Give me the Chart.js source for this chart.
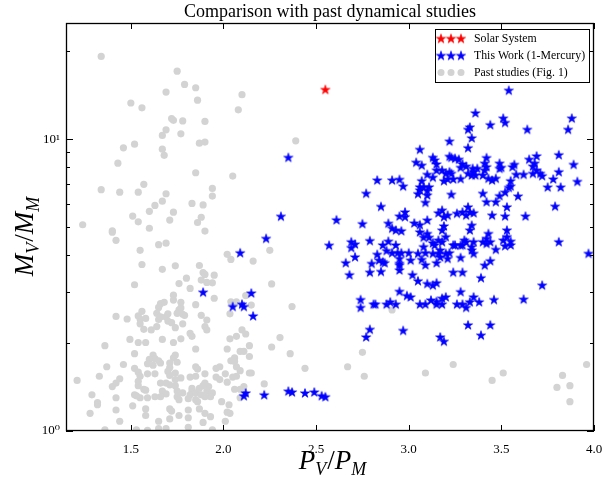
<!DOCTYPE html>
<html><head><meta charset="utf-8">
<script src="https://cdn.jsdelivr.net/npm/chart.js@4.4.0/dist/chart.umd.min.js"></script>
<style>html,body{margin:0;padding:0;background:#fff;overflow:hidden;}canvas{display:block;}</style>
</head><body>
<canvas id="c" width="603" height="477"></canvas>
<script>
const chartTitle = 'Comparison with past dynamical studies';
const seriesNames = ['Solar System', 'This Work (1-Mercury)', 'Past studies (Fig. 1)'];
const seriesColors = ['#ff0000', '#0000ff', '#d3d3d3'];
const xTicks = [1.5, 2.0, 2.5, 3.0, 3.5, 4.0];
const yMajorTicks = [1, 10];
const yMinorTicks = [2, 3, 4, 5, 6, 7, 8, 9, 20];
const xRange = [1.15, 4.0];
const yRange = [1, 25];

const solarSystem = [[2.55, 14.8]];

const thisWork = [
[2.35,8.66],[2.31,5.44],[2.61,5.29],[2.23,4.57],[2.09,4.08],[2.57,4.33],[2.75,5.13],[2.77,6.52],[2.83,7.24],[2.85,5.88],
[2.91,7.24],[2.95,7.28],[2.97,6.90],[3.06,9.22],[3.04,8.33],[3.07,8.14],[3.10,7.57],[3.07,7.20],[3.06,6.86],[3.05,6.50],
[3.09,6.07],[2.98,5.63],[2.95,5.45],[2.98,5.42],[3.03,5.16],[3.06,5.09],[2.89,5.15],[2.91,4.95],[2.93,4.88],[2.96,4.85],
[3.06,4.81],[3.10,5.28],[2.79,4.49],[2.69,4.45],[2.71,4.37],[2.69,4.25],[2.86,4.34],[2.89,4.47],[2.93,4.34],[2.83,4.03],
[2.88,4.15],[2.91,4.08],[2.94,4.08],[2.96,4.08],[3.00,4.08],[3.05,4.06],[3.08,4.61],[3.08,4.28],[2.71,3.95],[2.66,3.77],
[2.68,3.43],[2.79,3.50],[2.80,3.75],[2.85,3.52],[2.86,3.80],[2.87,3.77],[2.84,3.85],[2.95,3.90],[2.95,3.70],[2.95,3.56],
[3.01,3.85],[3.07,3.87],[3.09,3.71],[3.02,3.43],[3.05,3.27],[3.10,3.20],[2.95,3.01],[2.99,2.91],[3.01,2.88],[2.74,2.82],
[2.74,2.65],[2.81,2.72],[2.82,2.72],[2.88,2.72],[2.90,2.77],[2.93,2.72],[3.06,2.72],[3.09,2.72],[2.79,2.23],[2.77,2.10],
[2.97,2.21],[2.15,2.97],[2.05,2.67],[2.10,2.72],[2.11,2.67],[2.16,2.48],[2.12,1.35],[2.11,1.32],[2.22,1.33],[2.35,1.37],
[2.37,1.36],[2.44,1.35],[2.49,1.36],[2.53,1.32],[2.55,1.31],[1.89,2.99],[3.97,4.06],[3.72,3.16],[3.62,2.83],[3.46,2.82],
[3.39,3.35],[3.41,3.70],[3.44,3.83],[3.47,4.19],[3.52,4.31],[3.55,4.47],[3.81,4.45],[3.32,2.31],[3.44,2.31],[3.39,2.13],
[3.17,2.10],[3.19,2.03],[3.28,3.00],[3.24,3.50],[3.29,3.50],[3.28,3.93],[3.38,2.77],[3.33,2.77],[3.35,2.88],[3.31,2.65],
[3.26,2.72],[3.29,2.72],[3.12,2.81],[3.15,2.72],[3.18,2.72],[3.18,2.85],[3.20,2.88],[3.15,2.78],[3.13,3.16],[3.15,3.22],
[2.95,3.75],[3.09,4.08],[3.13,4.06],[3.16,4.06],[3.20,4.06],[3.22,4.08],[3.14,4.34],[3.17,4.17],[3.18,4.45],[3.24,4.34],
[3.25,4.34],[3.29,4.34],[3.31,4.45],[3.34,4.28],[3.35,4.06],[3.34,4.17],[3.40,4.45],[3.42,4.39],[3.44,4.45],[3.21,3.90],
[3.17,3.95],[3.15,3.77],[3.54,14.7],[3.36,12.3],[3.51,11.8],[3.52,11.4],[3.44,11.2],[3.33,11.0],[3.32,10.8],[3.64,10.8],
[3.88,11.8],[3.86,10.8],[3.34,10.1],[3.22,9.84],[3.32,9.34],[3.13,8.66],[3.14,8.48],[3.15,8.22],[3.22,8.73],[3.23,8.66],
[3.25,8.60],[3.27,8.53],[3.29,8.22],[3.31,8.08],[3.28,8.00],[3.42,8.64],[3.41,8.27],[3.42,8.04],[3.49,8.27],[3.50,8.00],
[3.49,7.94],[3.56,8.04],[3.57,8.19],[3.65,8.53],[3.69,8.76],[3.68,8.27],[3.67,8.08],[3.69,7.83],[3.67,7.63],[3.71,7.63],
[3.72,7.49],[3.81,8.84],[3.89,8.19],[3.81,7.73],[3.78,7.30],[3.91,7.16],[3.82,6.85],[3.75,6.85],[3.58,7.57],[3.62,7.57],
[3.55,7.20],[3.55,6.90],[3.54,6.83],[3.18,7.83],[3.20,7.63],[3.22,7.73],[3.23,7.63],[3.21,7.30],[3.19,7.20],[3.28,7.32],
[3.24,7.30],[3.32,7.63],[3.34,7.53],[3.35,7.73],[3.36,7.53],[3.37,7.94],[3.345,7.94],[3.40,7.53],[3.43,7.34],[3.45,7.24],
[3.47,7.34],[3.41,7.83],[3.15,7.83],[3.13,7.40],[3.08,6.86],[3.06,6.69],[3.11,6.86],[3.10,6.67],[3.10,6.43],[3.23,6.47],
[3.40,6.52],[3.42,6.10],[3.47,6.10],[3.49,6.40],[3.52,6.58],[3.53,5.86],[3.52,5.45],[3.59,6.38],[3.79,5.89],[3.63,5.45],
[3.45,5.49],[3.29,5.63],[3.31,5.49],[3.33,5.63],[3.35,5.59],[3.32,5.86],[3.26,5.57],[3.18,5.71],[3.16,5.59],[3.19,5.42],
[3.21,5.49],[3.34,5.07],[3.33,4.88],[3.19,5.04],[3.18,4.88],[3.53,4.88],[3.10,4.75],[3.11,4.61],[3.20,4.63],[3.16,4.51],
[3.13,4.41],[3.28,4.33],[3.30,4.51],[3.35,4.45],[3.43,4.75],[3.42,4.57],[3.51,4.51],[3.53,4.63],[3.55,4.34]
];

const pastStudies = [
[1.34,19.2],[1.75,17.1],[1.79,15.4],[1.85,15.0],[1.69,14.5],[2.10,14.2],[1.86,13.6],[1.50,13.3],[1.56,12.8],[2.08,12.6],
[1.72,11.76],[1.73,11.6],[1.78,11.55],[1.90,11.5],[1.69,10.76],[1.67,10.3],[1.77,10.43],[1.46,9.34],[1.52,9.61],[1.67,9.24],
[1.87,9.69],[1.90,9.77],[1.68,8.80],[1.43,8.27],[1.85,7.67],[2.05,7.47],[1.34,6.71],[1.44,6.58],[1.54,6.58],[1.57,7.00],
[1.69,6.50],[1.94,6.78],[1.94,6.38],[1.67,6.13],[1.63,5.93],[1.83,6.02],[1.89,5.95],[1.60,5.66],[1.73,5.62],[1.51,5.45],
[1.54,5.21],[1.71,5.28],[1.86,5.18],[1.88,5.40],[1.24,5.09],[1.40,4.85],[1.60,4.95],[1.90,4.84],[2.39,9.87],[2.25,4.16],
[2.16,3.82],[2.04,3.87],[2.26,3.19],[2.12,2.91],[2.07,2.77],[2.04,2.77],[2.15,2.70],[2.37,2.67],[2.035,2.52],[2.10,2.22],
[2.12,2.15],[2.07,2.11],[2.035,2.07],[2.305,2.09],[2.14,1.96],[2.26,1.94],[2.09,1.875],[2.11,1.875],[2.14,1.80],[2.36,1.84],
[2.04,1.74],[2.07,1.66],[2.44,1.64],[2.14,1.58],[2.15,1.58],[2.07,1.54],[2.22,1.45],[2.06,1.39],[2.09,1.39],[2.11,1.42],
[2.09,1.30],[2.035,1.15],[2.67,1.66],[2.75,1.86],[2.76,1.54],[2.91,2.60],[3.09,1.58],[3.24,1.69],[3.45,1.49],[3.51,1.58],
[3.83,1.55],[3.80,1.41],[3.87,1.43],[3.87,1.26],[3.96,1.69],
[1.40,4.80],[1.42,4.50],[1.65,4.35],[1.69,4.40],[1.55,4.16],[1.56,3.72],[1.67,3.58],[1.74,3.68],[1.87,3.69],[1.89,3.49],
[1.90,3.44],[1.95,3.42],[1.94,3.22],[1.91,3.23],[1.88,3.29],[2.02,4.03],[1.52,3.17],[1.76,3.20],[1.80,3.34],[1.82,3.08],
[1.73,2.92],[1.68,2.76],[1.66,2.73],[1.65,2.65],[1.64,2.53],[1.65,2.41],[1.66,2.46],[1.77,2.76],[1.77,2.64],[1.76,2.60],
[1.78,2.51],[1.79,2.49],[1.75,2.53],[1.73,2.81],[1.85,2.71],[1.95,2.85],[1.42,2.47],[1.48,2.42],[1.54,2.48],[1.56,2.57],
[1.55,2.42],[1.58,2.43],[1.55,2.33],[1.57,2.23],[1.61,2.22],[1.69,2.46],[1.70,2.38],[1.70,2.52],[1.72,2.35],[1.74,2.26],
[1.78,2.33],[1.88,2.49],[1.91,2.40],[1.90,2.28],[1.91,2.22],[1.64,2.28],[2.02,1.91],[1.82,2.16],[1.83,2.11],[1.77,2.07],
[1.67,2.06],[1.73,2.01],[1.495,2.06],[1.54,2.01],[1.58,2.01],[1.36,1.96],[1.85,1.91],[2.06,1.78],[1.52,1.84],[1.46,1.69],
[1.37,1.66],[1.62,1.82],[1.63,1.77],[1.60,1.76],[1.59,1.70],[1.62,1.68],[1.66,1.71],[1.65,1.74],[1.74,1.82],[1.73,1.78],
[1.75,1.72],[1.71,1.71],[1.71,1.65],[1.52,1.64],[1.54,1.59],[1.55,1.54],[1.59,1.57],[1.63,1.57],[1.70,1.60],[1.74,1.58],
[1.71,1.55],[1.74,1.50],[1.77,1.52],[1.85,1.66],[1.86,1.63],[1.85,1.54],[1.82,1.53],[1.90,1.57],[1.96,1.64],[1.98,1.66],
[1.96,1.53],[1.98,1.50],[2.01,1.57],[2.02,1.47],[2.05,1.53],[2.09,1.61],[2.06,1.73],[1.21,1.49],[1.33,1.54],[1.44,1.51],
[1.42,1.46],[1.40,1.42],[1.54,1.48],[1.54,1.43],[1.52,1.33],[1.57,1.39],[1.58,1.38],[1.59,1.30],[1.55,1.30],[1.53,1.32],
[1.66,1.46],[1.69,1.46],[1.71,1.44],[1.67,1.37],[1.69,1.34],[1.66,1.31],[1.74,1.43],[1.75,1.37],[1.78,1.35],[1.83,1.37],
[1.82,1.33],[1.83,1.40],[1.85,1.35],[1.87,1.40],[1.89,1.43],[1.90,1.46],[1.92,1.42],[1.91,1.37],[1.94,1.35],[1.93,1.31],
[1.90,1.31],[1.88,1.33],[1.86,1.26],[1.85,1.28],[1.81,1.29],[1.76,1.28],[1.75,1.31],[1.29,1.33],[1.32,1.25],[1.32,1.23],
[1.42,1.30],[1.42,1.18],[1.44,1.08],[1.28,1.15],[1.51,1.22],[1.58,1.19],[1.58,1.13],[1.63,1.31],[1.71,1.19],[1.72,1.17],
[1.71,1.10],[1.65,1.08],[1.69,1.02],[1.65,1.02],[1.76,1.13],[1.81,1.11],[1.81,1.03],[1.81,1.18],[1.87,1.19],[1.90,1.15],
[1.89,1.07],[1.93,1.12],[1.94,1.01],[1.99,1.26],[2.02,1.16],[2.01,1.08],[2.03,1.23],[1.36,1.01],[1.53,1.01],[1.59,1.005]
];

const SERIF = "'Liberation Serif', 'DejaVu Serif', serif";

function makeStar(color) {
  const s = 12, c = document.createElement('canvas');
  c.width = s; c.height = s;
  const g = c.getContext('2d');
  const R = 4.8, r = R * 0.382, cx = 6, cy = 6.4;
  g.beginPath();
  for (let i = 0; i < 10; i++) {
    const a = -Math.PI / 2 + i * Math.PI / 5;
    const rad = i % 2 ? r : R;
    g.lineTo(cx + rad * Math.cos(a), cy + rad * Math.sin(a));
  }
  g.closePath();
  g.fillStyle = color; g.fill();
  g.lineWidth = 0.7; g.strokeStyle = color; g.lineJoin = 'round'; g.stroke();
  return c;
}
const redStar = makeStar(seriesColors[0]);
const blueStar = makeStar(seriesColors[1]);
const toXY = arr => arr.map(p => ({x: p[0], y: p[1]}));

// centre the Chart.js title over the plotting area, as in the reference
const titleOverArea = {
  id: 'titleOverArea',
  afterLayout(chart) {
    const t = chart.titleBlock;
    if (t) { t.left = chart.chartArea.left; t.right = chart.chartArea.right; }
  }
};

const frameTicks = {
  id: 'frameTicks',
  afterDatasetsDraw(chart) {
    const {ctx, chartArea: a, scales: {x, y}} = chart;
    ctx.save();
    ctx.strokeStyle = '#000';
    ctx.lineWidth = 1;
    ctx.beginPath();
    xTicks.forEach(v => {
      const px = Math.round(x.getPixelForValue(v)) + 0.5;
      ctx.moveTo(px, a.bottom); ctx.lineTo(px, a.bottom - 6);
      ctx.moveTo(px, a.top); ctx.lineTo(px, a.top + 6);
    });
    yMajorTicks.forEach(v => {
      const py = Math.round(y.getPixelForValue(v)) + 0.5;
      ctx.moveTo(a.left, py); ctx.lineTo(a.left + 7, py);
      ctx.moveTo(a.right, py); ctx.lineTo(a.right - 7, py);
    });
    yMinorTicks.forEach(v => {
      const py = Math.round(y.getPixelForValue(v)) + 0.5;
      ctx.moveTo(a.left, py); ctx.lineTo(a.left + 4, py);
      ctx.moveTo(a.right, py); ctx.lineTo(a.right - 4, py);
    });
    ctx.stroke();
    ctx.lineWidth = 1.3;
    ctx.strokeRect(a.left + 0.5, a.top + 0.5, a.right - a.left - 1, a.bottom - a.top - 1);
    ctx.restore();
  }
};

function drawMath(ctx, parts, big, small) {
  let w = 0;
  parts.forEach(p => {
    ctx.font = (p[0] === '/' ? '' : 'italic ') + (p[1] ? small : big) + 'px ' + SERIF;
    p.w = ctx.measureText(p[0]).width; w += p.w + (p[1] ? 1 : 0);
  });
  let cx = -w / 2;
  parts.forEach(p => {
    ctx.font = (p[0] === '/' ? '' : 'italic ') + (p[1] ? small : big) + 'px ' + SERIF;
    ctx.fillText(p[0], cx, p[1] ? big * 0.22 : 0);
    cx += p.w + (p[1] ? 1 : 0);
  });
}

const axisTitles = {
  id: 'axisTitles',
  afterDraw(chart) {
    const {ctx, chartArea: a} = chart;
    ctx.save();
    ctx.fillStyle = '#000';
    ctx.textBaseline = 'alphabetic';
    ctx.textAlign = 'left';
    ctx.save();
    ctx.translate((a.left + a.right) / 2 + 3, 469);
    drawMath(ctx, [['P', 0], ['V', 1], ['/', 0], ['P', 0], ['M', 1]], 27, 18);
    ctx.restore();
    ctx.save();
    ctx.translate(33, (a.top + a.bottom) / 2 + 9);
    ctx.rotate(-Math.PI / 2);
    drawMath(ctx, [['M', 0], ['V', 1], ['/', 0], ['M', 0], ['M', 1]], 27, 18);
    ctx.restore();
    ctx.restore();
  }
};

const legendBox = {
  id: 'legendBox',
  afterDraw(chart) {
    const {ctx, chartArea: a} = chart;
    const w = 154, h = 53;
    const left = a.right - 5 - w, top = a.top + 6;
    ctx.save();
    ctx.fillStyle = '#fff';
    ctx.fillRect(left, top, w, h);
    ctx.strokeStyle = '#000'; ctx.lineWidth = 1;
    ctx.strokeRect(left + 0.5, top + 0.5, w, h);
    const markers = [redStar, blueStar, null];
    chart.data.datasets.forEach((ds, i) => {
      const cy = top + 9.5 + i * 17;
      for (let k = 0; k < 3; k++) {
        const cx = left + 6 + k * 10;
        if (markers[i]) {
          ctx.drawImage(markers[i], cx - markers[i].width / 2, cy - markers[i].height / 2);
        } else {
          ctx.beginPath(); ctx.arc(cx, cy, 3.5, 0, Math.PI * 2);
          ctx.fillStyle = seriesColors[2]; ctx.fill();
        }
      }
      ctx.fillStyle = '#000';
      ctx.font = '11.8px ' + SERIF;
      ctx.textBaseline = 'middle';
      ctx.textAlign = 'left';
      ctx.fillText(ds.label, left + 39, cy);
    });
    ctx.restore();
  }
};

new Chart(document.getElementById('c'), {
  type: 'scatter',
  data: {
    datasets: [
      {label: seriesNames[0], data: toXY(solarSystem), pointStyle: redStar, pointRadius: 5,
       backgroundColor: seriesColors[0], borderColor: seriesColors[0]},
      {label: seriesNames[1], data: toXY(thisWork), pointStyle: blueStar, pointRadius: 5,
       backgroundColor: seriesColors[1], borderColor: seriesColors[1]},
      {label: seriesNames[2], data: toXY(pastStudies), pointStyle: 'circle', pointRadius: 3.6,
       backgroundColor: seriesColors[2], borderColor: seriesColors[2], borderWidth: 0}
    ]
  },
  options: {
    responsive: false,
    animation: false,
    events: [],
    layout: {padding: {left: 0, right: 9, top: 0, bottom: 0}},
    plugins: {
      legend: {display: false},
      tooltip: {enabled: false},
      title: {display: true, text: chartTitle, color: '#000',
        font: {family: SERIF, size: 18, weight: 'normal', lineHeight: 20 / 18},
        padding: {top: 2, bottom: 1}}
    },
    scales: {
      x: {
        type: 'linear', min: xRange[0], max: xRange[1],
        afterBuildTicks: s => { s.ticks = xTicks.map(v => ({value: v})); },
        afterFit: s => { s.height = 46; s.paddingLeft = 0; s.paddingRight = 0; },
        grid: {display: false, drawTicks: false},
        border: {display: false},
        ticks: {callback: v => Number(v).toFixed(1), color: '#000', padding: 11,
          maxRotation: 0, autoSkip: false, font: {family: SERIF, size: 13}}
      },
      y: {
        type: 'logarithmic', min: yRange[0], max: yRange[1],
        afterBuildTicks: s => { s.ticks = yMajorTicks.concat(yMinorTicks).sort((p, q) => p - q).map(v => ({value: v})); },
        afterFit: s => { s.width = 66; s.paddingTop = 0; s.paddingBottom = 0; },
        grid: {display: false, drawTicks: false},
        border: {display: false},
        ticks: {callback: v => (v === 1 ? '10\u2070' : v === 10 ? '10\u00B9' : ''), color: '#000', padding: 6,
          autoSkip: false, font: {family: SERIF, size: 13}}
      }
    }
  },
  plugins: [titleOverArea, frameTicks, axisTitles, legendBox]
});
</script>
</body></html>
